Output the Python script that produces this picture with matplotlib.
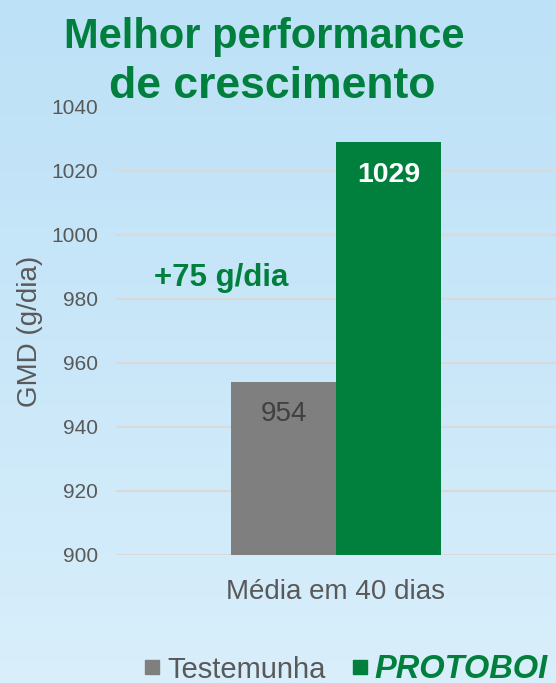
import numpy as np
import matplotlib.pyplot as plt
from matplotlib.colors import LinearSegmentedColormap
from matplotlib.lines import Line2D

plt.rcParams['font.family'] = ['Liberation Sans', 'DejaVu Sans']

# dados do gráfico
series = ['Testemunha', 'PROTOBOI']
values = [954, 1029]
category = ['Média em 40 dias']
y_ticks = [900, 920, 940, 960, 980, 1000, 1020, 1040]

gray = '#7f7f7f'
green = '#007f3d'
text_gray = '#595959'

fig = plt.figure(figsize=(5.56, 6.83), dpi=100)

# fundo azul em degradê
bg = fig.add_axes([0, 0, 1, 1], zorder=-1)
cmap = LinearSegmentedColormap.from_list('ceu', ['#bde1f7', '#c9e7f9', '#d9effb'])
bg.imshow(np.linspace(0, 1, 256).reshape(-1, 1), aspect='auto', cmap=cmap, extent=[0, 1, 0, 1])
bg.axis('off')

ax = fig.add_axes([116 / 556, 128 / 683, 440 / 556, 448 / 683])
ax.set_facecolor('none')

bar_w = 0.2386
x = [-bar_w / 2, bar_w / 2]
ax.bar(x, values, width=bar_w, color=[gray, green], zorder=2)

ax.set_xlim(-0.5, 0.5)
ax.set_ylim(900, 1040)
ax.set_yticks(y_ticks)
ax.set_xticks([0])
ax.set_xticklabels(category)
ax.tick_params(axis='y', length=0, labelsize=15, labelcolor=text_gray, pad=13)
ax.tick_params(axis='x', length=0, labelsize=20, labelcolor=text_gray, pad=17)
ax.yaxis.grid(True, color='#d9d9d9', lw=1.5)
ax.set_axisbelow(True)
for s in ax.spines.values():
    s.set_visible(False)
ax.set_ylabel('GMD (g/dia)', fontsize=20, color=text_gray, labelpad=6)

# rótulos das barras
ax.annotate(str(values[0]), (x[0], values[0]), xytext=(0, -28), textcoords='offset points',
            ha='center', va='baseline', fontsize=20, color='#404040')
ax.annotate(str(values[1]), (x[1], values[1]), xytext=(0, -29), textcoords='offset points',
            ha='center', va='baseline', fontsize=20.5, fontweight='bold', color='white')
ax.text(-0.26, 984, f'+{values[1] - values[0]} g/dia', ha='center', va='baseline',
        fontsize=22.5, fontweight='bold', color=green)

# título
fig.text(264 / 556, 1 - 48 / 683, 'Melhor performance', ha='center', va='baseline',
         fontsize=30, fontweight='bold', color=green)
fig.text(272 / 556, 1 - 97.5 / 683, 'de crescimento', ha='center', va='baseline',
         fontsize=32, fontweight='bold', color=green)

# legenda
handles = [Line2D([], [], marker='s', ls='none', color=c, markersize=10) for c in (gray, green)]
leg = fig.legend(handles, series, loc='center left', bbox_to_anchor=(145 / 556, 14 / 683),
                 frameon=False, ncol=2, fontsize=21, handlelength=0.5, handletextpad=0.25,
                 columnspacing=0.95, borderpad=0, borderaxespad=0, labelcolor=text_gray)
leg.get_texts()[1].set(fontweight='bold', fontstyle='italic', fontsize=23.5, color=green)

fig.savefig('out.png', dpi=100)
